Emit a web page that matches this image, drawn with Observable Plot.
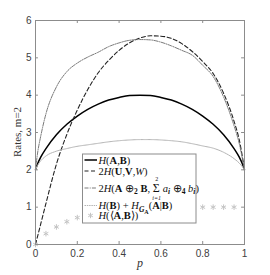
<!DOCTYPE html>
<html><head><meta charset="utf-8">
<script src="https://cdn.jsdelivr.net/npm/d3@7"></script>
<script src="https://cdn.jsdelivr.net/npm/@observablehq/plot@0.6"></script>
<style>body{margin:0;background:#fff;} svg{display:block}</style>
</head><body><div id="chart"></div>
<script>
// ---- data ----
const p = [0, 0.01, 0.025, 0.05, 0.1, 0.15, 0.2, 0.25, 0.3, 0.35, 0.4, 0.45, 0.5,
           0.55, 0.6, 0.65, 0.7, 0.75, 0.8, 0.85, 0.9, 0.95, 0.975, 0.99, 1];
const rateAB   = [2, 2.16, 2.34, 2.57, 2.94, 3.22, 3.44, 3.62, 3.76, 3.87, 3.94, 3.99, 4.0,
                  3.99, 3.94, 3.87, 3.76, 3.62, 3.44, 3.22, 2.94, 2.57, 2.34, 2.16, 2];
const rateUVW  = [0, 0.22, 0.55, 1.1, 2.15, 2.95, 3.6, 4.15, 4.6, 4.93, 5.2, 5.4, 5.53,
                  5.59, 5.58, 5.52, 5.38, 5.17, 4.9, 4.58, 4.05, 3.3, 2.8, 2.35, 2];
const rateSum  = [2, 2.45, 2.9, 3.5, 4.22, 4.63, 4.86, 5.02, 5.15, 5.3, 5.4, 5.47, 5.49,
                  5.48, 5.42, 5.32, 5.2, 5.07, 4.8, 4.5, 3.95, 3.18, 2.7, 2.3, 2];
const rateCond = [2, 2.12, 2.24, 2.37, 2.5, 2.57, 2.63, 2.67, 2.71, 2.75, 2.78, 2.8, 2.81,
                  2.81, 2.8, 2.78, 2.75, 2.7, 2.64, 2.58, 2.47, 2.3, 2.18, 2.08, 2];
const pStar    = [0, 0.05, 0.1, 0.15, 0.2, 0.25, 0.3, 0.35, 0.4, 0.45, 0.5,
                  0.55, 0.6, 0.65, 0.7, 0.75, 0.8, 0.85, 0.9, 0.95];
const rateAngle= [0, 0.29, 0.47, 0.61, 0.72, 0.81, 0.88, 0.93, 0.97, 0.99, 1.0,
                  1.0, 1.0, 1.0, 1.0, 1.0, 1.0, 1.0, 1.0, 1.0];
const xTicks = [0, 0.2, 0.4, 0.6, 0.8, 1];
const xTickLabels = ["0", "0.2", "0.4", "0.6", "0.8", "1"];
const yTicks = [0, 1, 2, 3, 4, 5, 6];
const yTickLabels = ["0", "1", "2", "3", "4", "5", "6"];
const yLabel = "Rates, m=2";
const xLabel = "p";

// ---- styling ----
const series = [
  {key: "AB",   values: rateAB,   stroke: "#000",    width: 1.5, dash: null},
  {key: "UVW",  values: rateUVW,  stroke: "#222",    width: 1.1, dash: "4,2.5"},
  {key: "Sum",  values: rateSum,  stroke: "#7a7a7a", width: 1,   dash: "4,1.2,1,1.2"},
  {key: "Cond", values: rateCond, stroke: "#b4b4b4", width: 1,   dash: "1.5,0.8"}
];
const rows = series.flatMap(s => p.map((pv, i) => ({key: s.key, p: pv, r: s.values[i]})));
const stars = pStar.map((pv, i) => ({p: pv, r: rateAngle[i]}));
const axisColor = "#8c8c8c";

const chart = Plot.plot({
  width: 270, height: 275,
  marginLeft: 35, marginRight: 26, marginTop: 20, marginBottom: 31,
  style: {fontFamily: "Liberation Sans", fontSize: "10px", color: "#404040", background: "#fff"},
  x: {domain: [0, 1]},
  y: {domain: [0, 6]},
  marks: [
    ...series.map(s => Plot.line(rows.filter(d => d.key === s.key), {
      x: "p", y: "r", stroke: s.stroke, strokeWidth: s.width,
      strokeDasharray: s.dash, curve: "monotone-x"
    })),
    Plot.dot(stars, {x: "p", y: "r", symbol: "asterisk", r: 2.6, stroke: "#c4c4c4", strokeWidth: 1}),
    Plot.frame({stroke: axisColor}),
    Plot.ruleX(xTicks, {x: d => d, y1: 0, y2: 0.08, stroke: axisColor}),
    Plot.ruleX(xTicks, {x: d => d, y1: 5.92, y2: 6, stroke: axisColor}),
    Plot.ruleY(yTicks, {y: d => d, x1: 0, x2: 0.014, stroke: axisColor}),
    Plot.ruleY(yTicks, {y: d => d, x1: 0.986, x2: 1, stroke: axisColor}),
    Plot.axisX({ticks: xTicks, tickFormat: (d, i) => xTickLabels[i], tickSize: 0, tickPadding: 5, label: null}),
    Plot.axisY({ticks: yTicks, tickFormat: (d, i) => yTickLabels[i], tickSize: 0, tickPadding: 4, label: null})
  ]
});
document.getElementById("chart").appendChild(chart);

const svg = d3.select(chart);
// axis titles
svg.append("text").attr("transform", "translate(21,132) rotate(-90)")
  .attr("text-anchor", "middle").attr("font-family", "Liberation Serif").attr("font-size", 11)
  .attr("fill", "#333").text(yLabel);
svg.append("text").attr("x", 140).attr("y", 267)
  .attr("text-anchor", "middle").attr("font-family", "Liberation Serif").attr("font-style", "italic")
  .attr("font-size", 12).attr("fill", "#333").text(xLabel);

// ---- legend ----
const lg = svg.append("g").attr("font-family", "Liberation Serif").attr("fill", "#111")
  .attr("text-anchor", "start");
const box = {x: 82.5, y: 154, w: 113.5, h: 69};
lg.append("rect").attr("x", box.x).attr("y", box.y).attr("width", box.w).attr("height", box.h)
  .attr("fill", "#fff").attr("stroke", axisColor).attr("stroke-width", 1);

const FS = 10.5;
function addText(x, y, parts) {
  const t = lg.append("text").attr("x", x).attr("y", y).attr("font-size", FS).attr("text-anchor", "start");
  let shift = 0;
  for (const [str, st = ""] of parts) {
    const target = st.includes("subsub") ? 4.5 : st.includes("sub") ? 2.5 : 0;
    const ts = t.append("tspan").text(str);
    if (target !== shift) { ts.attr("dy", target - shift); shift = target; }
    ts.attr("font-size", st.includes("subsub") ? 6 : st.includes("sub") ? 7.5 : FS);
    if (st.includes("i")) ts.attr("font-style", "italic");
    if (st.includes("b")) ts.attr("font-weight", "bold");
  }
  return t;
}
const sx1 = 84.5, sx2 = 97, tx = 98.5;
const rowsY = [160, 171, 188, 205.5, 215.5];
function sample(y, s) {
  lg.append("line").attr("x1", sx1).attr("x2", sx2).attr("y1", y).attr("y2", y)
    .attr("stroke", s.stroke).attr("stroke-width", s.width).attr("stroke-dasharray", s.dash);
}
series.forEach((s, i) => sample(rowsY[i], s));
addText(tx, rowsY[0] + 3.5, [["H","i"],["("],["A","b"],[","],["B","b"],[")"]]);
addText(tx, rowsY[1] + 3.5, [["2"],["H","i"],["("],["U","b"],[","],["V","b"],[","],["W","i"],[")"]]);
const t3 = addText(tx, rowsY[2] + 3.5, [["2"],["H","i"],["("],["A","b"],[" ⊕"],["2","sub"],[" B","b"],[", "]]);
const t3w = t3.node().getComputedTextLength();
const sgx = tx + t3w;
lg.append("text").attr("x", sgx).attr("y", rowsY[2] + 4).attr("font-size", 12).text("Σ");
lg.append("text").attr("x", sgx + 4).attr("y", rowsY[2] - 7).attr("font-size", 6)
  .attr("text-anchor", "middle").text("2");
lg.append("text").attr("x", sgx + 4).attr("y", rowsY[2] + 11.5).attr("font-size", 6)
  .attr("text-anchor", "middle").attr("font-style", "italic").text("i=1");
addText(sgx + 10, rowsY[2] + 3.5, [["a","i"],["i","subi"],[" ⊕"],["4","sub"],[" b","i"],["i","subi"],[")"]]);
addText(tx, rowsY[3] + 3.5, [["H","i"],["("],["B","b"],[") + "],["H","i"],["G","subi"],["A","subsubb"],["("],["A","b"],["|"],["B","b"],[")"]]);
addText(tx, rowsY[4] + 3.5, [["H","i"],["(⟨"],["A","b"],[","],["B","b"],["⟩)"]]);
lg.append("path").attr("transform", `translate(90.5,${rowsY[4]})`)
  .attr("d", d3.symbol(d3.symbolAsterisk, 20)()).attr("stroke", "#c4c4c4").attr("fill", "none");
</script>
</body></html>
